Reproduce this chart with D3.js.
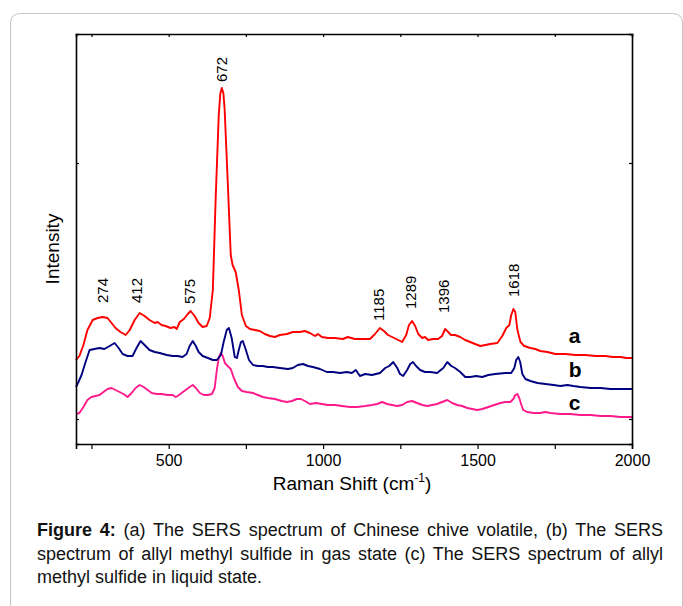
<!DOCTYPE html>
<meta charset="utf-8">
<script src="https://d3js.org/d3.v7.min.js"></script>
<style>
  body { margin: 0; background: #fff; }
  text { font-family: Arial, "Liberation Sans", sans-serif; }
</style>
<div id="chart"></div>
<script>

// spectrum a: Chinese chive volatile  [Raman shift, intensity a.u.]
var shiftA = [200,211,224,237,254,270,286,302,315,328,344,361,374,390,406,422,438,455,464,477,490,506,519,526,536,549,562,571,584,597,610,623,633,643,652,662,667,672,677,681,691,701,707,717,727,737,750,763,779,795,811,828,844,860,883,902,925,941,957,974,983,996,1016,1038,1064,1080,1103,1126,1152,1168,1184,1197,1210,1230,1243,1256,1269,1278,1288,1298,1308,1321,1330,1340,1356,1372,1385,1395,1405,1414,1427,1444,1460,1476,1492,1509,1525,1541,1564,1580,1593,1603,1609,1616,1622,1629,1639,1651,1671,1687,1703,1726,1752,1784,1817,1849,1882,1914,1937,1963,1982,2000];
var intA  = [84,88,99,114,124,126,127,126,121,116,112,109,114,124,131,128,124,121,122,119,118,116,117,115,122,125,130,133,128,121,117,118,126,154,244,328,350,356,351,336,264,189,179,172,154,129,118,115,114,113,110,108,107,109,110,112,112,113,111,108,110,107,106,106,105,107,105,105,105,110,116,113,109,106,104,102,109,119,123,118,110,106,107,104,105,105,108,115,112,109,109,107,104,102,100,98,99,100,101,108,116,119,129,135,132,114,102,98,96,95,93,92,90,90,89,89,88,88,87,87,86,86];

// spectrum b: allyl methyl sulfide, gas state
var shiftB = [200,208,218,231,244,260,276,292,309,325,338,351,367,383,396,409,422,438,455,471,494,513,529,545,558,568,578,588,597,610,627,643,656,669,678,688,695,704,714,721,727,734,740,750,760,773,789,805,821,837,860,886,902,918,935,951,967,990,1012,1032,1055,1077,1093,1106,1119,1136,1158,1184,1201,1214,1227,1240,1249,1259,1272,1282,1291,1301,1314,1330,1347,1369,1389,1402,1415,1427,1444,1460,1476,1496,1515,1535,1557,1590,1609,1619,1625,1632,1638,1645,1655,1671,1694,1720,1746,1768,1791,1810,1833,1866,1898,1930,1963,2000];
var intB  = [57,62,69,82,94,95,96,95,98,101,96,90,88,88,96,103,99,94,92,91,89,88,88,87,90,98,103,98,92,88,86,84,84,89,102,114,116,106,87,86,94,102,103,94,84,79,78,78,77,77,76,75,76,79,80,78,77,75,72,72,71,72,71,74,68,70,69,71,76,78,82,76,70,68,74,80,82,78,74,72,72,71,76,82,78,76,72,67,67,68,67,69,70,71,71,76,84,87,82,70,65,63,61,60,59,58,59,58,57,56,56,55,55,55];

// spectrum c: allyl methyl sulfide, liquid state
var shiftC = [200,211,224,237,250,263,276,289,302,315,328,341,354,367,380,393,406,419,432,445,461,477,497,513,523,529,542,555,568,578,588,601,614,627,640,649,656,662,669,675,682,691,701,711,724,737,753,773,789,805,821,844,866,883,899,915,928,941,957,977,996,1016,1038,1061,1087,1110,1136,1158,1175,1191,1207,1223,1240,1256,1272,1288,1304,1321,1337,1353,1369,1385,1402,1418,1434,1450,1467,1483,1499,1515,1535,1554,1574,1590,1606,1616,1622,1629,1635,1642,1648,1661,1681,1703,1719,1736,1768,1800,1833,1866,1898,1930,1963,2000];
var intC  = [30,31,37,44,47,48,49,52,55,56,54,52,50,47,51,56,59,57,54,51,50,50,49,49,47,48,51,54,57,59,56,51,49,49,50,56,74,86,91,88,81,78,75,66,57,53,52,51,49,47,46,45,43,42,43,45,45,43,40,41,40,39,39,38,37,37,38,39,40,42,40,39,38,39,42,43,41,39,38,39,40,42,44,41,39,38,36,35,34,35,37,39,41,42,42,45,49,50,46,39,34,32,31,31,32,31,30,30,29,29,28,28,27,27];

// peak labels on spectrum a
var peakLabels  = ["274","412","575","672","1185","1289","1396","1618"];
var peakLabelAt = [286, 396, 567, 672, 1180, 1283, 1390, 1616];   // shift where label sits
var peakLabelI  = [141, 141, 140, 362, 123, 135, 131, 147];       // intensity of label foot

var seriesNames = ["a", "b", "c"];
var seriesNameI = [101, 67, 34];

var xTicks = [250,500,750,1000,1250,1500,1750,2000];
var xLabels = [500,1000,1500,2000];
var yTicks = [25, 281];

var W = 683, H = 606;
var margin = {top: 34, right: 51, bottom: 162, left: 76};
var width = W - margin.left - margin.right,
    height = H - margin.top - margin.bottom;

var svg = d3.select("#chart").append("svg")
    .attr("width", W).attr("height", H);

// card frame
svg.append("rect")
    .attr("x", 10.5).attr("y", 13.5)
    .attr("width", 672).attr("height", 700)
    .attr("rx", 9)
    .attr("fill", "none").attr("stroke", "#c4c4c4").attr("stroke-width", 1);

var g = svg.append("g")
    .attr("transform", "translate(" + margin.left + "," + margin.top + ")");

var x = d3.scaleLinear().domain([200, 2000]).range([0, width]);
var y = d3.scaleLinear().domain([0, 410]).range([height, 0]);

// spectra
var line = d3.line()
    .x(function(d) { return x(d[0]); })
    .y(function(d) { return y(d[1]); });

var spectra = [
  {shift: shiftC, inten: intC, color: "#ff1a8c"},
  {shift: shiftB, inten: intB, color: "#000080"},
  {shift: shiftA, inten: intA, color: "#ff0000"}
];
spectra.forEach(function(s) {
  g.append("path")
    .datum(d3.zip(s.shift, s.inten))
    .attr("fill", "none")
    .attr("stroke", s.color)
    .attr("stroke-width", 1.9)
    .attr("stroke-linejoin", "round")
    .attr("d", line);
});

// axes
var bottom = g.append("g")
    .attr("transform", "translate(0," + height + ")")
    .call(d3.axisBottom(x).tickValues(xTicks).tickSize(5).tickPadding(6)
      .tickFormat(function(d) { return xLabels.indexOf(d) >= 0 ? d : ""; }));
bottom.selectAll("text").attr("font-size", 16).attr("fill", "#000");

g.append("g")
    .call(d3.axisTop(x).tickValues(xTicks).tickSize(-3).tickFormat(""));
g.append("g")
    .call(d3.axisLeft(y).tickValues(yTicks).tickSize(-3).tickFormat(""));
g.append("g")
    .attr("transform", "translate(" + width + ",0)")
    .call(d3.axisRight(y).tickValues(yTicks).tickSize(-3).tickFormat(""));

g.selectAll(".domain").attr("stroke", "#000").attr("stroke-width", 1.6);
g.selectAll(".tick line").attr("stroke", "#000").attr("stroke-width", 1.2);

// peak labels
peakLabels.forEach(function(lab, i) {
  g.append("text")
    .attr("transform", "translate(" + x(peakLabelAt[i]) + "," + y(peakLabelI[i]) + ") rotate(-90)")
    .attr("dy", "0.35em")
    .attr("font-size", 15)
    .text(lab);
});

// series letters
seriesNames.forEach(function(n, i) {
  g.append("text")
    .attr("x", x(1795)).attr("y", y(seriesNameI[i]))
    .attr("font-size", 21).attr("font-weight", "bold")
    .text(n);
});

// axis titles
svg.append("text")
    .attr("transform", "translate(59,249) rotate(-90)")
    .attr("text-anchor", "middle")
    .attr("font-size", 19)
    .text("Intensity");

var xt = svg.append("text")
    .attr("x", 352).attr("y", 490)
    .attr("text-anchor", "middle")
    .attr("font-size", 19);
xt.append("tspan").text("Raman Shift (cm");
xt.append("tspan").attr("font-size", 12).attr("dy", -8).text("-1");
xt.append("tspan").attr("dy", 8).text(")");

// caption
var captionLines = [
  [["Figure 4:", true], [" (a) The SERS spectrum of Chinese chive volatile, (b) The SERS", false]],
  [["spectrum of allyl methyl sulfide in gas state (c) The SERS spectrum of allyl", false]],
  [["methyl sulfide in liquid state.", false]]
];
var capLeft = 37, capRight = 663, capTop = 536, capStep = 23.5;
captionLines.forEach(function(parts, i) {
  var t = svg.append("text")
      .attr("x", capLeft).attr("y", capTop + i * capStep)
      .attr("font-size", 18).attr("fill", "#111");
  parts.forEach(function(p) {
    t.append("tspan").attr("font-weight", p[1] ? "bold" : "normal").text(p[0]);
  });
  if (i < captionLines.length - 1) {
    var full = parts.map(function(p) { return p[0]; }).join("");
    var spaces = (full.match(/ /g) || []).length;
    var extra = (capRight - capLeft - t.node().getComputedTextLength()) / spaces;
    t.attr("word-spacing", extra);
  }
});

</script>
